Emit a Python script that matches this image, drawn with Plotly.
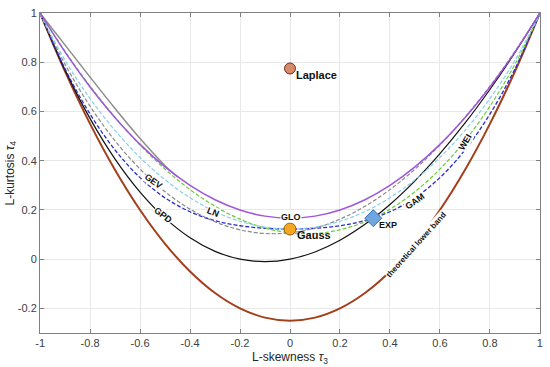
import plotly.graph_objects as go

# L-skewness grid (tau3)
tau3 = [-1.0, -0.9, -0.8, -0.7, -0.6, -0.5, -0.4, -0.3, -0.2, -0.1, 0.0,
        0.1, 0.2, 0.3, 0.4, 0.5, 0.6, 0.7, 0.8, 0.9, 1.0]

glo = [1.0, 0.8417, 0.7, 0.575, 0.4667, 0.375, 0.3, 0.2417, 0.2, 0.175, 0.1667,
       0.175, 0.2, 0.2417, 0.3, 0.375, 0.4667, 0.575, 0.7, 0.8417, 1.0]
gev = [0.997, 0.7916, 0.6214, 0.4808, 0.3661, 0.2742, 0.2034, 0.1521, 0.1193, 0.1045, 0.1070,
       0.1265, 0.1626, 0.2148, 0.2827, 0.3658, 0.4638, 0.5762, 0.7029, 0.8443, 1.0]
wei = [1.0, 0.8443, 0.7029, 0.5762, 0.4638, 0.3658, 0.2827, 0.2148, 0.1626, 0.1265, 0.1070,
       0.1045, 0.1193, 0.1521, 0.2034, 0.2742, 0.3661, 0.4808, 0.6214, 0.7916, 0.997]
ln = [0.998, 0.8077, 0.6525, 0.5227, 0.4133, 0.3226, 0.2495, 0.1935, 0.1540, 0.1306, 0.1228,
      0.1306, 0.1540, 0.1935, 0.2495, 0.3226, 0.4133, 0.5227, 0.6525, 0.8077, 0.998]
gam = [1.0, 0.7729, 0.5894, 0.4436, 0.3314, 0.2493, 0.1929, 0.1569, 0.1359, 0.1255, 0.1224,
       0.1255, 0.1359, 0.1569, 0.1929, 0.2493, 0.3314, 0.4436, 0.5894, 0.7729, 1.0]
gpd = [1.0, 0.7683, 0.5714, 0.4070, 0.2727, 0.1667, 0.0870, 0.0319, 0.0, -0.0102, 0.0,
       0.0294, 0.0769, 0.1415, 0.2222, 0.3182, 0.4286, 0.5526, 0.6897, 0.8390, 1.0]
lower = [1.0, 0.7625, 0.55, 0.3625, 0.2, 0.0625, -0.05, -0.1375, -0.2, -0.2375, -0.25,
         -0.2375, -0.2, -0.1375, -0.05, 0.0625, 0.2, 0.3625, 0.55, 0.7625, 1.0]

# grey solid upper segment at the left
grey_t3 = [-1.0, -0.9, -0.8, -0.7, -0.6, -0.5, -0.45]
grey_t4 = [1.0, 0.87, 0.74, 0.612, 0.49, 0.38, 0.335]

# special points
pt_names = ["Laplace", "Gauss", "EXP"]
pt_t3 = [0.0, 0.0, 0.3333]
pt_t4 = [0.775, 0.1226, 0.1667]

x_ticks = [-1, -0.8, -0.6, -0.4, -0.2, 0, 0.2, 0.4, 0.6, 0.8, 1]
x_ticklabels = ["-1", "-0.8", "-0.6", "-0.4", "-0.2", "0", "0.2", "0.4", "0.6", "0.8", "1"]
y_ticks = [-0.2, 0, 0.2, 0.4, 0.6, 0.8, 1]
y_ticklabels = ["-0.2", "0", "0.2", "0.4", "0.6", "0.8", "1"]

fig = go.Figure()

def add_line(x, y, color, width, dash="solid"):
    fig.add_trace(go.Scatter(x=x, y=y, mode="lines",
                             line=dict(color=color, width=width, dash=dash, shape="spline", smoothing=1.0),
                             showlegend=False, hoverinfo="skip"))

DASH = "4px,2px"
add_line(tau3, lower, "#a3401c", 2.0)
add_line(tau3, gpd, "#111111", 1.2)
add_line(tau3, gam, "#2a2ad0", 1.3, DASH)
add_line(tau3, wei, "#6ccc3e", 1.2, DASH)
add_line(tau3, gev, "#8a8a8a", 1.2, DASH)
add_line(tau3, ln, "#86cfea", 1.2, DASH)
add_line(grey_t3, grey_t4, "#8c8c8c", 1.5)
add_line(tau3, glo, "#9e57d9", 1.5)

# markers
fig.add_trace(go.Scatter(x=[pt_t3[0]], y=[pt_t4[0]], mode="markers",
                         marker=dict(symbol="circle", size=11, color="#d98a6a",
                                     line=dict(color="#6a3020", width=1)),
                         showlegend=False, hoverinfo="skip"))
fig.add_trace(go.Scatter(x=[pt_t3[1]], y=[pt_t4[1]], mode="markers",
                         marker=dict(symbol="circle", size=12, color="#f5a623",
                                     line=dict(color="#9a6000", width=1)),
                         showlegend=False, hoverinfo="skip"))
fig.add_trace(go.Scatter(x=[pt_t3[2]], y=[pt_t4[2]], mode="markers",
                         marker=dict(symbol="diamond", size=13, color="#6ea6e0",
                                     line=dict(color="#3a70b0", width=1)),
                         showlegend=False, hoverinfo="skip"))


def lab(text, x, y, angle=0, size=9, bg="white", xanchor="center"):
    fig.add_annotation(x=x, y=y, text="<b>%s</b>" % text, showarrow=False,
                       textangle=angle, xanchor=xanchor, yanchor="middle",
                       font=dict(family="Liberation Sans, Arial", size=size, color="#111111"),
                       bgcolor=bg, borderpad=0)

lab("GEV", -0.548, 0.318, 35)
lab("GPD", -0.509, 0.178, 38)
lab("LN", -0.309, 0.191, 22)
lab("GLO", 0.003, 0.171, 0)
lab("GAM", 0.50, 0.238, -35)
lab("WEI", 0.70, 0.478, -60)
lab("theoretical lower band", 0.507, 0.058, -48, size=8)
lab("Gauss", 0.025, 0.097, 0, size=11, bg=None, xanchor="left")
lab("EXP", 0.352, 0.138, 0, size=9, bg=None, xanchor="left")
lab("Laplace", 0.02, 0.748, 0, size=11, bg=None, xanchor="left")

# axis titles
fig.add_annotation(x=0.5, y=-0.077, xref="paper", yref="paper", showarrow=False,
                   text="L-skewness <i>τ</i><sub>3</sub>", xanchor="center", yanchor="middle",
                   font=dict(family="Liberation Sans, Arial", size=12, color="#262626"))
fig.add_annotation(x=-0.059, y=0.5, xref="paper", yref="paper", showarrow=False,
                   text="L-kurtosis <i>τ</i><sub>4</sub>", xanchor="center", yanchor="middle",
                   textangle=-90,
                   font=dict(family="Liberation Sans, Arial", size=12, color="#262626"))

axis_common = dict(showgrid=True, gridcolor="#e8e8e8", gridwidth=1, zeroline=False,
                   showline=True, linecolor="#808080", linewidth=1, mirror="ticks",
                   ticks="inside", ticklen=4, tickcolor="#808080",
                   tickfont=dict(family="Liberation Sans, Arial", size=11, color="#404040"))

fig.update_xaxes(range=[-1.0005, 1.0005], tickvals=x_ticks, ticktext=x_ticklabels, **axis_common)
fig.update_yaxes(range=[-0.3, 1.0005], tickvals=y_ticks, ticktext=y_ticklabels, **axis_common)

fig.update_layout(width=550, height=367, margin=dict(l=40, r=8, t=7, b=34),
                  plot_bgcolor="white", paper_bgcolor="white")

fig.write_html("out.html", config={"displayModeBar": False, "staticPlot": True},
               post_script="document.body.style.margin='0';document.body.style.padding='0';")
